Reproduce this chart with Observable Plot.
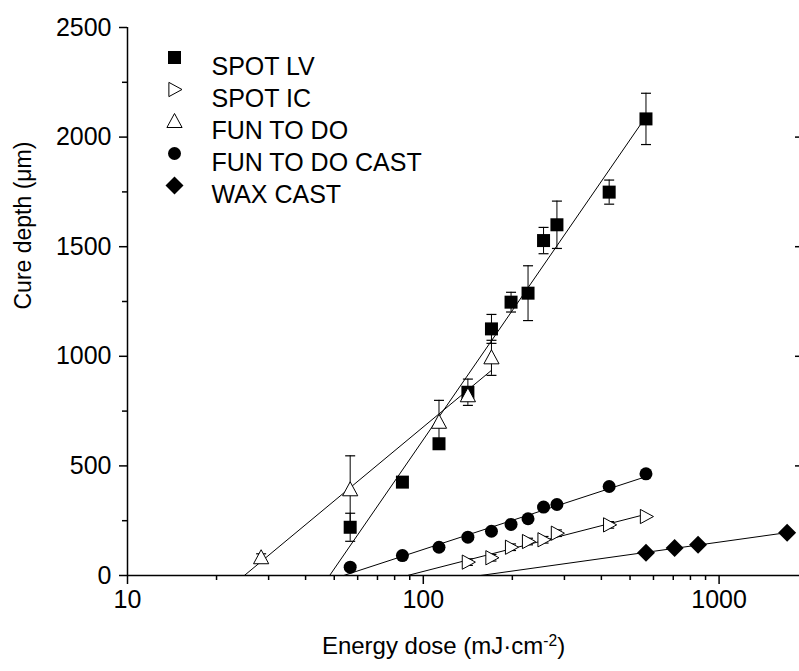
<!DOCTYPE html>
<html><head><meta charset="utf-8">
<script src="https://cdn.jsdelivr.net/npm/d3@7"></script>
<script src="https://cdn.jsdelivr.net/npm/@observablehq/plot@0.6"></script>
<style>html,body{margin:0;padding:0;background:#fff;overflow:hidden}</style>
</head><body><div id="chart"></div>
<script>
// ---- data ----
const spotLvDose = [56.6, 85, 113, 141.5, 170, 198, 226, 255, 283, 425, 566];
const spotLvDepth = [220, 426, 601, 836, 1125, 1247, 1288, 1528, 1600, 1749, 2083];
const spotLvErr = [64, 0, 0, 60, 66, 45, 125, 60, 108, 55, 117];

const spotIcDose = [141.5, 170, 198, 226, 255, 283, 425, 566];
const spotIcDepth = [61, 81, 129, 155, 163, 193, 231, 269];
const spotIcErr = [15, 15, 15, 15, 15, 15, 15, 0];

const funDose = [28.3, 56.6, 113, 141.5, 170];
const funDepth = [81, 391, 699, 820, 993];
const funErr = [18, 155, 100, 20, 80];

const funCastDose = [56.6, 85, 113, 141.5, 170, 198, 226, 255, 283, 425, 566];
const funCastDepth = [38, 91, 129, 175, 202, 233, 259, 312, 324, 406, 464];

const waxDose = [566, 707.5, 849, 1698];
const waxDepth = [104, 125, 140, 195];

const legendNames = ["SPOT LV", "SPOT IC", "FUN TO DO", "FUN TO DO CAST", "WAX CAST"];
const yMajor = [0, 500, 1000, 1500, 2000, 2500];
const yMinor = [250, 750, 1250, 1750, 2250];
const xMajor = [10, 100, 1000];
const xMinor = [20, 30, 40, 50, 60, 70, 80, 90, 200, 300, 400, 500, 600, 700, 800, 900];
const xTitle = "Energy dose (mJ·cm-2)";
const yTitle = "Cure depth (μm)";

// ---- helpers ----
const rows = (xs, ys, es) => xs.map((x, i) => ({x, y: ys[i], e: es ? es[i] : 0}));
function fit(xs, ys) {
  const lx = xs.map(Math.log10);
  const mx = d3.mean(lx), my = d3.mean(ys);
  const b = d3.sum(lx, (v, i) => (v - mx) * (ys[i] - my)) / d3.sum(lx, v => (v - mx) ** 2);
  const a = my - b * mx;
  const x0 = 10 ** (-a / b), x1 = d3.max(xs);
  return [{x: x0, y: 0}, {x: x1, y: a + b * Math.log10(x1)}];
}
const R = s => Math.sqrt(s / Math.PI);
const symSquare = {draw(c, s) {const r = R(s); c.moveTo(-r, -r); c.lineTo(r, -r); c.lineTo(r, r); c.lineTo(-r, r); c.closePath();}};
const symTriUp = {draw(c, s) {const r = R(s); c.moveTo(0, -r); c.lineTo(0.95 * r, 0.75 * r); c.lineTo(-0.95 * r, 0.75 * r); c.closePath();}};
const symTriRight = {draw(c, s) {const r = R(s); c.moveTo(r, 0); c.lineTo(-0.75 * r, -0.95 * r); c.lineTo(-0.75 * r, 0.95 * r); c.closePath();}};
const symDiamond = {draw(c, s) {const r = R(s); c.moveTo(0, -r); c.lineTo(r, 0); c.lineTo(0, r); c.lineTo(-r, 0); c.closePath();}};
const symCap = {draw(c, s) {const r = R(s); c.moveTo(-r, 0); c.lineTo(r, 0);}};

const sLv = rows(spotLvDose, spotLvDepth, spotLvErr);
const sIc = rows(spotIcDose, spotIcDepth, spotIcErr);
const sFun = rows(funDose, funDepth, funErr);
const sCast = rows(funCastDose, funCastDepth);
const sWax = rows(waxDose, waxDepth);
const withErr = [...sLv, ...sIc, ...sFun].filter(d => d.e > 0);

const styles = [
  {symbol: symSquare, r: 6.5, fill: "black", stroke: "none"},
  {symbol: symTriRight, r: 7.5, fill: "white", stroke: "black"},
  {symbol: symTriUp, r: 8, fill: "white", stroke: "black"},
  {symbol: "circle", r: 6.5, fill: "black", stroke: "none"},
  {symbol: symDiamond, r: 9, fill: "black", stroke: "none"}
];
const seriesData = [sLv, sIc, sFun, sCast, sWax];
const FS = 25;

const marks = [];
// fit lines
for (const s of seriesData) marks.push(Plot.line(fit(s.map(d => d.x), s.map(d => d.y)), {x: "x", y: "y", stroke: "black", strokeWidth: 1}));
// error bars
marks.push(Plot.ruleX(withErr, {x: "x", y1: d => d.y - d.e, y2: d => d.y + d.e, stroke: "black", strokeWidth: 1}));
marks.push(Plot.dot(withErr, {x: "x", y: d => d.y + d.e, symbol: symCap, r: 5, stroke: "black", strokeWidth: 1.2}));
marks.push(Plot.dot(withErr, {x: "x", y: d => d.y - d.e, symbol: symCap, r: 5, stroke: "black", strokeWidth: 1.2}));
// points
seriesData.forEach((s, i) => marks.push(Plot.dot(s, {x: "x", y: "y", ...styles[i], strokeWidth: 1})));
// axes
marks.push(Plot.ruleY([0], {stroke: "black", strokeWidth: 1.5}));
marks.push(Plot.ruleX([10], {stroke: "black", strokeWidth: 1.5}));
marks.push(Plot.axisY(yMajor, {tickSize: 8, tickPadding: 8, strokeWidth: 1.5, label: null, fontSize: FS, tickFormat: d => String(d)}));
marks.push(Plot.axisY(yMinor, {tickSize: 5, strokeWidth: 1.5, label: null, tickFormat: () => ""}));
marks.push(Plot.axisX(xMajor, {tickSize: 9, tickPadding: 6, strokeWidth: 1.5, label: null, fontSize: FS, tickFormat: d => String(d)}));
marks.push(Plot.axisX(xMinor, {tickSize: 5, strokeWidth: 1.5, label: null, tickFormat: () => ""}));
marks.push(Plot.dot(yMajor.slice(1, 5), {y: d => d, frameAnchor: "right", symbol: symCap, r: 2.5, dx: -2, stroke: "black", strokeWidth: 1.5}));
// axis titles
marks.push(Plot.text([xTitle], {text: d => d, frameAnchor: "bottom", dy: 78, dx: -20, fontSize: 24}));
marks.push(Plot.text([yTitle], {text: d => d, frameAnchor: "left", rotate: -90, dx: -104, dy: 8, fontSize: 23}));
// legend
legendNames.forEach((name, i) => {
  marks.push(Plot.dot([name], {frameAnchor: "top-left", dx: 47, dy: 30 + i * 32, ...styles[i], strokeWidth: 1}));
  marks.push(Plot.text([name], {text: d => d, frameAnchor: "top-left", dx: 84, dy: 30 + i * 32, textAnchor: "start", fontSize: FS}));
});

const chart = Plot.plot({
  width: 799, height: 671,
  marginLeft: 127, marginRight: 0, marginTop: 27, marginBottom: 96,
  x: {type: "log", domain: [10, 1870], axis: null},
  y: {domain: [0, 2500], axis: null},
  style: {fontFamily: "'Liberation Sans', Arial, sans-serif", fontSize: "25px", color: "black", background: "white"},
  marks
});
// superscript in x title
chart.querySelectorAll("text").forEach(t => {
  if (t.textContent === xTitle) {
    t.textContent = "";
    const ns = "http://www.w3.org/2000/svg";
    const a = document.createElementNS(ns, "tspan"); a.textContent = "Energy dose (mJ·cm";
    const b = document.createElementNS(ns, "tspan"); b.textContent = "-2"; b.setAttribute("dy", "-0.5em"); b.setAttribute("font-size", "0.65em");
    const c = document.createElementNS(ns, "tspan"); c.textContent = ")"; c.setAttribute("dy", "0.35em");
    t.append(a, b, c);
  }
});
document.getElementById("chart").append(chart);
</script>
</body></html>
